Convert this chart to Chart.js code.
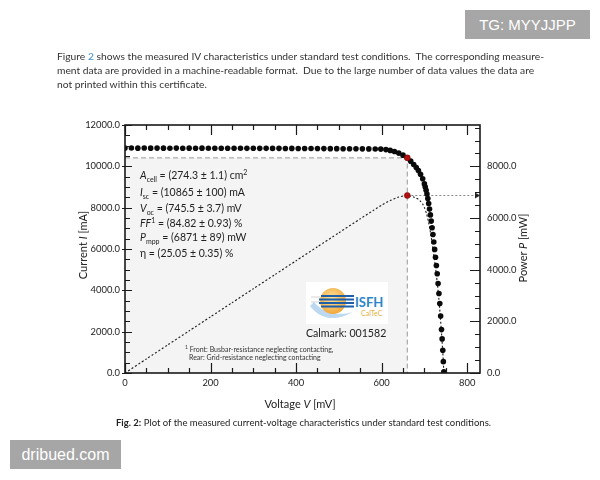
<!DOCTYPE html>
<html>
<head>
<meta charset="utf-8">
<script src="https://cdn.jsdelivr.net/npm/chart.js@4.4.0/dist/chart.umd.min.js"></script>
<style>
html, body { margin: 0; padding: 0; background: #fff; }
#hoja { position: relative; width: 600px; height: 480px; overflow: hidden; font-family: Lato, "Open Sans", sans-serif; color: #333; }
#grafica { position: absolute; left: 0; top: 0; }
.t { position: absolute; white-space: nowrap; }
.parrafo { left: 57px; font-size: 10.27px; line-height: 14px; }
.azul { color: #3a8fd0; }
.anot { left: 140px; font-size: 10.5px; line-height: 12px; color: #222; }
.anot sub, .anot sup { font-size: 7px; line-height: 0; }
.pie { font-size: 7px; color: #333; }
.titulo { width: 100px; height: 14px; line-height: 14px; text-align: center; font-size: 11px; color: #222; transform: rotate(-90deg); }
.marca { background: #a6a6a6; color: #fff; font-family: "Liberation Sans", Arial, sans-serif; text-align: center; }
</style>
</head>
<body>
<div id="hoja">
  <canvas id="grafica" width="600" height="480"></canvas>

  <div class="t parrafo" style="top:49px">Figure <span class="azul">2</span> shows the measured IV characteristics under standard test conditions.&nbsp; The corresponding measure-</div>
  <div class="t parrafo" style="top:63px">ment data are provided in a machine-readable format.&nbsp; Due to the large number of data values the data are</div>
  <div class="t parrafo" style="top:77px">not printed within this certificate.</div>

  <div class="t anot" style="top:169px"><i>A</i><sub>cell</sub> = (274.3 ± 1.1) cm<sup>2</sup></div>
  <div class="t anot" style="top:186px"><i>I</i><sub>sc</sub> = (10865 ± 100) mA</div>
  <div class="t anot" style="top:202px"><i>V</i><sub>oc</sub> = (745.5 ± 3.7) mV</div>
  <div class="t anot" style="top:217px"><i>FF</i><sup>1</sup> = (84.82 ± 0.93) %</div>
  <div class="t anot" style="top:231px"><i>P</i><sub>mpp</sub> = (6871 ± 89) mW</div>
  <div class="t anot" style="top:247px">η = (25.05 ± 0.35) %</div>

  <svg class="t" style="left:306px;top:282px" width="82" height="42" viewBox="306 282 82 42">
    <defs>
      <radialGradient id="sol" cx="0.45" cy="0.4" r="0.6">
        <stop offset="0" stop-color="#fde3a0"/>
        <stop offset="1" stop-color="#f2a83a"/>
      </radialGradient>
    </defs>
    <rect x="306" y="282" width="82" height="42" fill="#fff"/>
    <path d="M310 306 C322 322 340 320 352 312 C340 316 324 314 314 302 Z" fill="#9fc9e8" opacity="0.7"/>
    <circle cx="333" cy="301" r="13" fill="url(#sol)"/>
    <g stroke="#1d5fa8" stroke-width="2">
      <line x1="321" y1="296" x2="354" y2="296"/>
      <line x1="319" y1="299.5" x2="354" y2="299.5"/>
      <line x1="319" y1="303" x2="354" y2="303"/>
      <line x1="321" y1="306.5" x2="354" y2="306.5"/>
    </g>
    <g stroke="#c9c9c9" stroke-width="0.8">
      <line x1="311" y1="297" x2="320" y2="297"/>
      <line x1="311" y1="302" x2="319" y2="302"/>
    </g>
    <text x="355" y="307" font-family="Lato, sans-serif" font-weight="bold" font-size="13" fill="#2a86c8">ISFH</text>
    <text x="361" y="316" font-family="Lato, sans-serif" font-size="7" fill="#e3b23c">CalTeC</text>
  </svg>
  <div class="t" style="left:306px;top:327px;font-size:10.6px;color:#222">Calmark: 001582</div>

  <div class="t pie" style="left:185px;top:344px"><sup style="font-size:5px">1</sup> Front: Busbar-resistance neglecting contacting,</div>
  <div class="t pie" style="left:189px;top:353px">Rear: Grid-resistance neglecting contacting</div>

  <div class="t titulo" style="left:33px;top:238px">Current <i>I</i> [mA]</div>
  <div class="t titulo" style="left:473px;top:241px">Power <i>P</i> [mW]</div>
  <div class="t" style="left:300px;top:403px;font-size:11px;color:#222;transform:translate(-50%,-50%)">Voltage <i>V</i> [mV]</div>

  <div class="t" style="left:116px;top:417px;font-size:9.5px;color:#222"><b>Fig. 2:</b> Plot of the measured current-voltage characteristics under standard test conditions.</div>

  <div class="t marca" style="left:465px;top:10px;width:125px;height:29px;line-height:29px;font-size:15px">TG: MYYJJPP</div>
  <div class="t marca" style="left:10px;top:440px;width:111px;height:29px;line-height:29px;font-size:16px">dribued.com</div>
</div>

<script>
// Curva IV medida (tension en mV, corriente en mA)
const voltajeIV = [
    0, 15, 30, 45, 60, 75, 90, 105, 120, 135, 150, 165, 180, 195, 210, 225, 240, 255, 270, 285,
    300, 315, 330, 345, 360, 375, 390, 405, 420, 435, 450, 465, 480, 495, 510, 525, 540, 555, 570, 585,
    598, 610, 620, 630, 640, 650, 660, 668, 675, 681, 686, 691, 696,
    700, 702, 704, 706, 708, 710, 712, 714, 716, 718, 720, 722, 724, 726, 728, 730, 732, 734, 736, 738, 740,
    741.5, 743, 744.3, 745.5
];
const corrienteIV = [
    10882, 10885, 10880, 10884, 10879, 10883, 10881, 10878, 10882, 10877, 10880, 10876, 10879, 10875, 10877, 10874, 10876, 10872, 10875, 10871,
    10873, 10870, 10871, 10868, 10869, 10866, 10867, 10864, 10863, 10861, 10860, 10858, 10856, 10855, 10852, 10851, 10848, 10846, 10843, 10840,
    10835, 10810, 10770, 10715, 10640, 10540, 10410, 10250, 10090, 9940, 9800, 9620, 9400,
    9150, 9000, 8840, 8660, 8440, 8200, 7930, 7650, 7350, 7030, 6700, 6340, 5980, 5600, 5200, 4800, 4330, 3850, 3360, 2760, 2100,
    1650, 1100, 550, 60
];

// Curva de potencia (mV, mW)
const voltajeP = [0, 50, 100, 150, 200, 250, 300, 350, 400, 450, 500, 550, 580, 600, 620, 640, 650, 660,
    668, 675, 681, 686, 691, 696, 700, 705, 710, 715, 720, 725, 730, 735, 740, 743, 745.5];
const potencia = [0, 544, 1088, 1631, 2175, 2718, 3261, 3803, 4346, 4887, 5428, 5968, 6287, 6498, 6677, 6810, 6851, 6871,
    6847, 6811, 6769, 6723, 6647, 6542, 6405, 6169, 5822, 5363, 4824, 4205, 3504, 2646, 1554, 817, 0];

// Punto de maxima potencia
const vMpp = 660;
const iMpp = 10410;
const pMpp = 6871;

// Ejes
const xMax = 830;
const yMax = 12000;
const y2Max = 9600;
const xEtiquetas = [0, 200, 400, 600, 800];
const yEtiquetas = [0, 2000, 4000, 6000, 8000, 10000, 12000];
const y2Etiquetas = [0, 2000, 4000, 6000, 8000];

const puntosIV = voltajeIV.map((v, i) => ({ x: v, y: corrienteIV[i] }));
const puntosP = voltajeP.map((v, i) => ({ x: v, y: potencia[i] }));

// Rectangulo sombreado del MPP
const sombraMpp = {
    id: 'sombraMpp',
    beforeDatasetsDraw(chart) {
        const { ctx, scales: { x, y } } = chart;
        const x0 = x.getPixelForValue(0), x1 = x.getPixelForValue(vMpp);
        const y0 = y.getPixelForValue(iMpp), y1 = y.getPixelForValue(0);
        ctx.save();
        ctx.fillStyle = '#f4f4f4';
        ctx.fillRect(x0, y0, x1 - x0, y1 - y0);
        ctx.restore();
    }
};

// Marco, marcas de los ejes y flecha
const marcoEjes = {
    id: 'marcoEjes',
    afterDraw(chart) {
        const { ctx, chartArea: a, scales: { x, y, y2 } } = chart;
        ctx.save();
        ctx.strokeStyle = '#1a1a1a';
        ctx.lineWidth = 1.2;
        ctx.beginPath();
        for (let v = 0; v <= xMax; v += 50) {
            const px = Math.round(x.getPixelForValue(v)) + 0.5;
            const len = v % 200 === 0 ? 10 : 5;
            ctx.moveTo(px, a.bottom); ctx.lineTo(px, a.bottom - len);
            ctx.moveTo(px, a.top); ctx.lineTo(px, a.top + len);
        }
        for (let v = 0; v <= yMax; v += 500) {
            const py = Math.round(y.getPixelForValue(v)) + 0.5;
            if (v % 2000 === 0) { ctx.moveTo(a.left - 3, py); ctx.lineTo(a.left + 7, py); }
            else { ctx.moveTo(a.left, py); ctx.lineTo(a.left + 5, py); }
        }
        for (let v = 0; v <= y2Max; v += 500) {
            const py = Math.round(y2.getPixelForValue(v)) + 0.5;
            const len = v % 2000 === 0 ? 10 : 5;
            ctx.moveTo(a.right, py); ctx.lineTo(a.right - len, py);
        }
        ctx.stroke();
        ctx.lineWidth = 1.6;
        ctx.strokeRect(a.left, a.top, a.right - a.left, a.bottom - a.top);
        // flecha en el eje derecho
        const pa = y2.getPixelForValue(pMpp);
        ctx.fillStyle = '#222';
        ctx.beginPath();
        ctx.moveTo(a.right, pa);
        ctx.lineTo(a.right - 5, pa - 3);
        ctx.lineTo(a.right - 5, pa + 3);
        ctx.closePath();
        ctx.fill();
        ctx.restore();
    }
};

const fuenteTicks = { family: 'Lato, "Open Sans", sans-serif', size: 9.4 };
const sinRejilla = { display: false, drawTicks: false };

new Chart(document.getElementById('grafica'), {
    type: 'line',
    data: {
        datasets: [
            {
                label: 'MPP I',
                data: [{ x: vMpp, y: iMpp }],
                yAxisID: 'y',
                showLine: false,
                pointRadius: 3,
                pointBackgroundColor: '#b01010',
                pointBorderColor: '#7a0000',
                pointBorderWidth: 0.5
            },
            {
                label: 'MPP P',
                data: [{ x: vMpp, y: pMpp }],
                yAxisID: 'y2',
                showLine: false,
                pointRadius: 3,
                pointBackgroundColor: '#b01010',
                pointBorderColor: '#7a0000',
                pointBorderWidth: 0.5
            },
            {
                label: 'Corriente',
                data: puntosIV,
                yAxisID: 'y',
                showLine: false,
                pointRadius: 2.8,
                pointBackgroundColor: '#0a0a0a',
                pointBorderColor: '#0a0a0a',
                pointBorderWidth: 0
            },
            {
                label: 'Potencia',
                data: puntosP,
                yAxisID: 'y2',
                borderColor: '#1a1a1a',
                borderWidth: 1.1,
                borderDash: [2, 2],
                pointRadius: 0,
                tension: 0.2
            },
            {
                label: 'Guia I',
                data: [{ x: 0, y: iMpp }, { x: vMpp, y: iMpp }, { x: vMpp, y: 0 }],
                yAxisID: 'y',
                borderColor: '#9a9a9a',
                borderWidth: 1,
                borderDash: [5, 3],
                pointRadius: 0
            },
            {
                label: 'Guia P',
                data: [{ x: vMpp, y: pMpp }, { x: xMax, y: pMpp }],
                yAxisID: 'y2',
                borderColor: '#8a8a8a',
                borderWidth: 1,
                borderDash: [2, 2],
                pointRadius: 0
            }
        ]
    },
    options: {
        responsive: false,
        animation: false,
        devicePixelRatio: 1,
        layout: { padding: { left: 75, right: 70, top: 125, bottom: 87 } },
        plugins: { legend: { display: false }, tooltip: { enabled: false } },
        scales: {
            x: {
                type: 'linear',
                min: 0,
                max: xMax,
                grid: sinRejilla,
                border: { display: false },
                afterBuildTicks: (s) => { s.ticks = xEtiquetas.map(v => ({ value: v })); },
                afterFit: (s) => { s.height = 20; },
                ticks: { color: '#222', font: fuenteTicks, padding: 4, maxRotation: 0 }
            },
            y: {
                type: 'linear',
                position: 'left',
                min: 0,
                max: yMax,
                grid: sinRejilla,
                border: { display: false },
                afterBuildTicks: (s) => { s.ticks = yEtiquetas.map(v => ({ value: v })); },
                afterFit: (s) => { s.width = 50; },
                ticks: { color: '#222', font: fuenteTicks, padding: 5, callback: (v) => v.toFixed(1) }
            },
            y2: {
                type: 'linear',
                position: 'right',
                min: 0,
                max: y2Max,
                grid: sinRejilla,
                border: { display: false },
                afterBuildTicks: (s) => { s.ticks = y2Etiquetas.map(v => ({ value: v })); },
                afterFit: (s) => { s.width = 50; },
                ticks: { color: '#222', font: fuenteTicks, padding: 7, callback: (v) => v.toFixed(1) }
            }
        }
    },
    plugins: [sombraMpp, marcoEjes]
});
</script>
</body>
</html>
